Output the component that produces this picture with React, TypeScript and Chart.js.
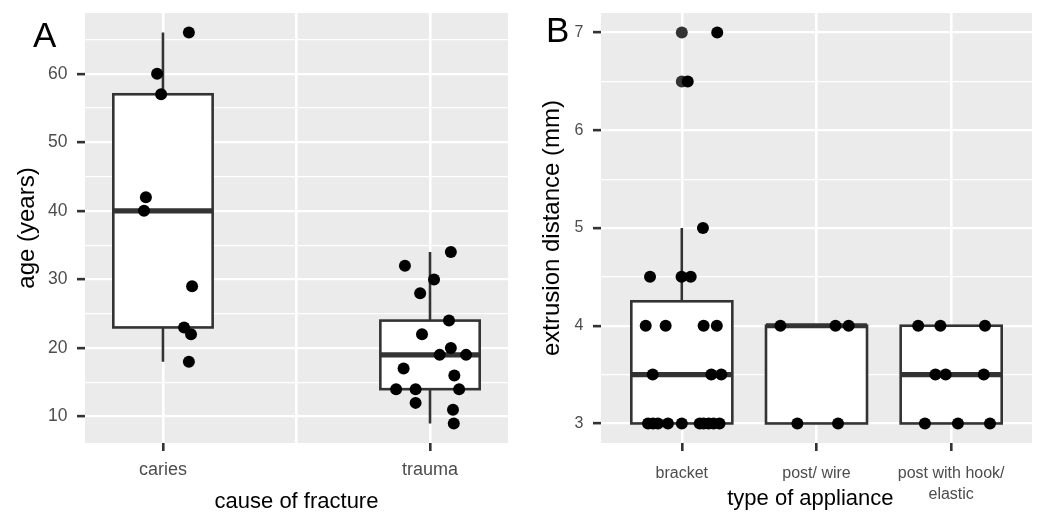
import React, { useEffect, useRef } from 'react';
import { Chart, registerables } from 'chart.js';

Chart.register(...registerables);

const FONT = '"Liberation Sans", Arial, Helvetica, sans-serif';

// ---------- Panel A: age by cause of fracture ----------
const causeCategories = ['caries', 'trauma'];
const cariesAges = [66, 60, 57, 42, 40, 29, 23, 22, 18];
const cariesJitter = [0.097, -0.022, -0.007, -0.064, -0.071, 0.109, 0.079, 0.105, 0.097];
const traumaAges = [34, 32, 30, 28, 24, 22, 20, 19, 19, 17, 16, 14, 14, 14, 12, 11, 9];
const traumaJitter = [0.078, -0.094, 0.015, -0.037, 0.071, -0.03, 0.078, 0.036, 0.135, -0.099, 0.091, -0.127, -0.054, 0.109, -0.054, 0.086, 0.089];
const ageQ1 = [23, 14];
const ageMedian = [40, 19];
const ageQ3 = [57, 24];
const ageWhiskerLow = [18, 9];
const ageWhiskerHigh = [66, 34];
const ageMajorTicks = [10, 20, 30, 40, 50, 60];
const ageMinorTicks = [15, 25, 35, 45, 55, 65];
const causeGridValues = [0, 0.5, 1];

// ---------- Panel B: extrusion distance by appliance ----------
const applianceCategories: (string | string[])[] = ['bracket', 'post/ wire', ['post with hook/', 'elastic']];
const bracketDist = [7, 6.5, 5, 4.5, 4.5, 4.5, 4, 4, 4, 4, 3.5, 3.5, 3.5, 3, 3, 3, 3, 3, 3, 3, 3, 3, 3];
const bracketJitter = [0.263, 0.044, 0.157, -0.236, -0.002, 0.066, -0.268, -0.12, 0.162, 0.26, -0.216, 0.219, 0.293, -0.251, -0.214, -0.177, -0.103, 0, 0.133, 0.162, 0.199, 0.236, 0.28];
const postWireDist = [4, 4, 4, 3, 3];
const postWireJitter = [-0.268, 0.141, 0.239, -0.142, 0.16];
const hookDist = [4, 4, 4, 3.5, 3.5, 3.5, 3, 3, 3];
const hookJitter = [-0.245, -0.08, 0.251, -0.117, -0.041, 0.242, -0.195, 0.05, 0.288];
const distQ1 = [3, 3, 3];
const distMedian = [3.5, 4, 3.5];
const distQ3 = [4.25, 4, 4];
const distWhiskerLow = [3, 3, 3];
const distWhiskerHigh = [5, 4, 4];
const bracketOutliers = [6.5, 7];
const distMajorTicks = [3, 4, 5, 6, 7];
const distMinorTicks = [3.5, 4.5, 5.5, 6.5];
const applianceGridValues = [0, 1, 2];

const boxplotPlugin = {
  id: 'boxplot',
  beforeDraw(chart: any, _args: any, opts: any) {
    const { ctx, chartArea } = chart;
    ctx.save();
    ctx.fillStyle = opts.background || '#ebebeb';
    ctx.fillRect(chartArea.left, chartArea.top, chartArea.right - chartArea.left, chartArea.bottom - chartArea.top);
    ctx.restore();
  },
  beforeDatasetsDraw(chart: any, _args: any, opts: any) {
    const { ctx } = chart;
    const xs = chart.scales.x;
    const ys = chart.scales.y;
    const { q1, median, q3, low, high, halfWidth } = opts;
    ctx.save();
    ctx.strokeStyle = '#333333';
    ctx.lineCap = 'butt';
    for (let i = 0; i < q1.length; i++) {
      const cx = xs.getPixelForValue(i);
      const l = xs.getPixelForValue(i - halfWidth);
      const r = xs.getPixelForValue(i + halfWidth);
      const yq1 = ys.getPixelForValue(q1[i]);
      const yq3 = ys.getPixelForValue(q3[i]);
      const ym = ys.getPixelForValue(median[i]);
      const yl = ys.getPixelForValue(low[i]);
      const yh = ys.getPixelForValue(high[i]);
      ctx.lineWidth = 2.6;
      ctx.beginPath();
      ctx.moveTo(cx, yh);
      ctx.lineTo(cx, yq3);
      ctx.moveTo(cx, yq1);
      ctx.lineTo(cx, yl);
      ctx.stroke();
      ctx.fillStyle = '#ffffff';
      ctx.fillRect(l, yq3, r - l, yq1 - yq3);
      ctx.strokeRect(l, yq3, r - l, yq1 - yq3);
      ctx.lineWidth = 5.2;
      ctx.beginPath();
      ctx.moveTo(l, ym);
      ctx.lineTo(r, ym);
      ctx.stroke();
    }
    ctx.restore();
  },
};

function pts(center: number, values: number[], jitter: number[]) {
  return values.map((v, i) => ({ x: center + jitter[i], y: v }));
}

interface PanelCfg {
  datasets: any[];
  xMin: number;
  xMax: number;
  yMin: number;
  yMax: number;
  xGrid: number[];
  yMajor: number[];
  yMinor: number[];
  xLabel: (v: number) => string | string[];
  xTitle: string;
  yTitle: string;
  yAxisWidth: number;
  padRight: number;
  xTickFont: number;
  yTickFont: number;
  xTickPad: number;
  xTickLineHeight: number;
  xTitlePad: number;
  yTitlePad: number;
  box: any;
}

function buildConfig(c: PanelCfg): any {
  const isMajorY = (v: number) => c.yMajor.includes(v);
  return {
    type: 'scatter',
    data: { datasets: c.datasets },
    plugins: [boxplotPlugin],
    options: {
      animation: false,
      responsive: false,
      maintainAspectRatio: false,
      events: [],
      layout: { padding: { top: 13, right: c.padRight, left: 0, bottom: 0 } },
      plugins: {
        legend: { display: false },
        tooltip: { enabled: false },
        boxplot: c.box,
      },
      scales: {
        x: {
          type: 'linear',
          min: c.xMin,
          max: c.xMax,
          border: { display: false },
          afterBuildTicks: (s: any) => {
            s.ticks = c.xGrid.map((v) => ({ value: v }));
          },
          afterFit: (s: any) => {
            s.height = 71;
            s.paddingLeft = 0;
            s.paddingRight = 0;
          },
          grid: {
            color: '#ffffff',
            lineWidth: 2.6,
            drawTicks: true,
            tickLength: 8,
            tickWidth: 2.6,
            tickColor: (ctx: any) => (ctx.tick && Number.isInteger(ctx.tick.value) ? '#333333' : 'rgba(0,0,0,0)'),
          },
          ticks: {
            autoSkip: false,
            maxRotation: 0,
            padding: c.xTickPad,
            color: '#4d4d4d',
            font: { family: FONT, size: c.xTickFont, lineHeight: c.xTickLineHeight },
            callback: (v: any) => c.xLabel(Number(v)),
          },
          title: {
            display: true,
            text: c.xTitle,
            color: '#000000',
            font: { family: FONT, size: 22, lineHeight: 1.1 },
            padding: { top: 0, bottom: c.xTitlePad },
          },
        },
        y: {
          type: 'linear',
          min: c.yMin,
          max: c.yMax,
          border: { display: false },
          afterBuildTicks: (s: any) => {
            s.ticks = [...c.yMajor, ...c.yMinor].sort((a, b) => a - b).map((v) => ({ value: v }));
          },
          afterFit: (s: any) => {
            s.width = c.yAxisWidth;
            s.paddingTop = 0;
            s.paddingBottom = 0;
          },
          grid: {
            color: '#ffffff',
            lineWidth: (ctx: any) => (ctx.tick && isMajorY(ctx.tick.value) ? 2.3 : 1.2),
            drawTicks: true,
            tickLength: 8,
            tickWidth: 2.6,
            tickColor: (ctx: any) => (ctx.tick && isMajorY(ctx.tick.value) ? '#333333' : 'rgba(0,0,0,0)'),
          },
          ticks: {
            autoSkip: false,
            padding: 9.5,
            color: '#4d4d4d',
            font: { family: FONT, size: c.yTickFont },
            callback: (v: any) => (isMajorY(Number(v)) ? String(v) : ''),
          },
          title: {
            display: true,
            text: c.yTitle,
            color: '#000000',
            font: { family: FONT, size: 24, lineHeight: 1.1 },
            padding: { top: c.yTitlePad, bottom: 0 },
          },
        },
      },
    },
  };
}

const pointStyle = { pointRadius: 6, pointBorderWidth: 0, pointHoverRadius: 6 };

function ChartCanvas({ config, width, height, left }: { config: () => any; width: number; height: number; left: number }) {
  const ref = useRef<HTMLCanvasElement | null>(null);
  useEffect(() => {
    if (!ref.current) return;
    const chart = new Chart(ref.current, config());
    return () => chart.destroy();
  }, []);
  return (
    <canvas
      ref={ref}
      width={width}
      height={height}
      style={{ position: 'absolute', left, top: 0, width, height, display: 'block' }}
    />
  );
}

function panelA() {
  return buildConfig({
    datasets: [
      {
        label: 'ages',
        data: [...pts(0, cariesAges, cariesJitter), ...pts(1, traumaAges, traumaJitter)],
        backgroundColor: '#000000',
        ...pointStyle,
      },
    ],
    xMin: -0.292,
    xMax: 1.292,
    yMin: 6.15,
    yMax: 68.85,
    xGrid: causeGridValues,
    yMajor: ageMajorTicks,
    yMinor: ageMinorTicks,
    xLabel: (v) => (Number.isInteger(v) ? causeCategories[v] : ''),
    xTitle: 'cause of fracture',
    yTitle: 'age (years)',
    yAxisWidth: 85,
    padRight: 11,
    xTickFont: 18,
    yTickFont: 17.5,
    xTickPad: 8,
    xTickLineHeight: 1.2,
    xTitlePad: 0,
    yTitlePad: 14,
    box: { q1: ageQ1, median: ageMedian, q3: ageQ3, low: ageWhiskerLow, high: ageWhiskerHigh, halfWidth: 0.186 },
  });
}

function panelB() {
  return buildConfig({
    datasets: [
      {
        label: 'jitter',
        data: [...pts(0, bracketDist, bracketJitter), ...pts(1, postWireDist, postWireJitter), ...pts(2, hookDist, hookJitter)],
        backgroundColor: '#000000',
        ...pointStyle,
      },
      {
        label: 'outliers',
        data: bracketOutliers.map((v) => ({ x: 0, y: v })),
        backgroundColor: '#333333',
        ...pointStyle,
      },
    ],
    xMin: -0.6,
    xMax: 2.6,
    yMin: 2.8,
    yMax: 7.2,
    xGrid: applianceGridValues,
    yMajor: distMajorTicks,
    yMinor: distMinorTicks,
    xLabel: (v) => (Number.isInteger(v) ? applianceCategories[v] : ''),
    xTitle: 'type of appliance\u00a0\u00a0',
    yTitle: 'extrusion distance (mm)',
    yAxisWidth: 82,
    padRight: 3,
    xTickFont: 16,
    yTickFont: 16,
    xTickPad: 12,
    xTickLineHeight: 1.3,
    xTitlePad: 3,
    yTitlePad: 20,
    box: { q1: distQ1, median: distMedian, q3: distQ3, low: distWhiskerLow, high: distWhiskerHigh, halfWidth: 0.375 },
  });
}

export default function App() {
  const labelStyle: React.CSSProperties = {
    position: 'absolute',
    fontFamily: FONT,
    fontSize: 35,
    lineHeight: '35px',
    color: '#000000',
    margin: 0,
  };
  return (
    <div style={{ position: 'absolute', left: 0, top: 0, width: 1038, height: 514, background: '#ffffff', overflow: 'hidden' }}>
      <ChartCanvas config={panelA} width={519} height={514} left={0} />
      <ChartCanvas config={panelB} width={519} height={514} left={519} />
      <div style={{ ...labelStyle, left: 33, top: 17 }}>A</div>
      <div style={{ ...labelStyle, left: 546, top: 12 }}>B</div>
    </div>
  );
}
